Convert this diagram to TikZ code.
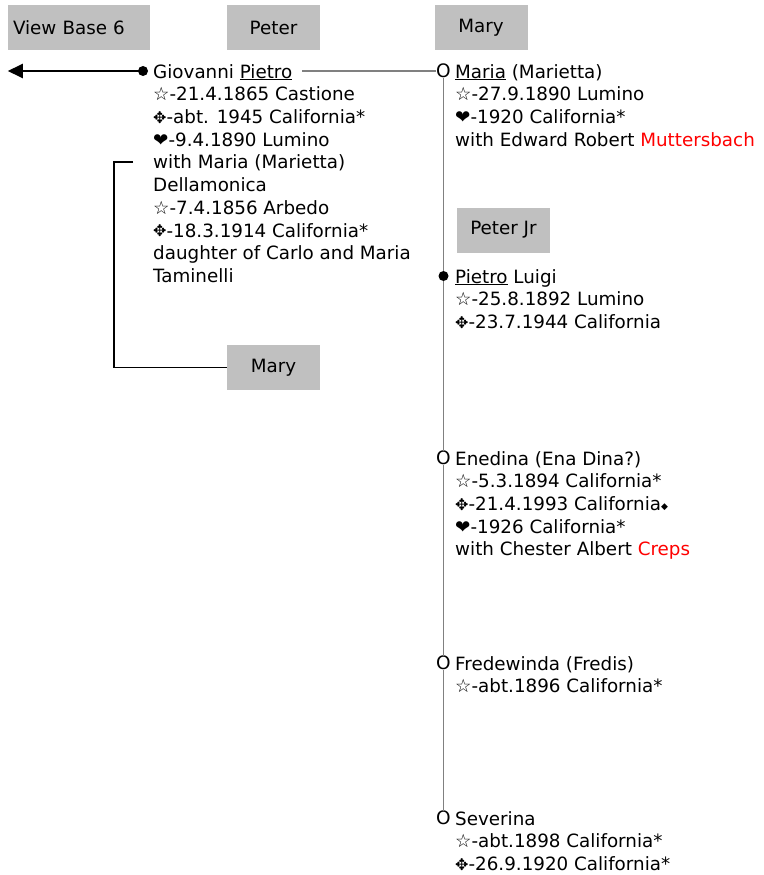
\documentclass[tikz,border=0pt]{standalone}
\usepackage{fontspec}
\setmainfont{DejaVu Sans}
\usetikzlibrary{arrows.meta}
\definecolor{tagGray}{HTML}{C0C0C0}
\definecolor{kinGray}{HTML}{808080}
\definecolor{famRed}{HTML}{FF0000}
\newcommand{\callname}[1]{\setbox0\hbox{#1}\rlap{\rule[-2.4pt]{\wd0}{1.2pt}}\box0\relax}
\newcommand{\bornsym}{☆}
\newcommand{\diedsym}{\raisebox{0.3pt}{\fontsize{16}{16}\selectfont ✥}}
\newcommand{\wedsym}{❤}
\newcommand{\notesym}{\raisebox{1pt}{\fontsize{9}{9}\selectfont ◆}}
\begin{document}
\begin{tikzpicture}[
    x=1pt, y=-1pt,
    tag/.style={fill=tagGray, minimum width=93pt, minimum height=45pt, inner sep=0pt, font=\fontsize{18.3}{22.7}\selectfont},
    person/.style={anchor=base west, inner sep=0pt, font=\fontsize{18.3}{22.7}\selectfont},
    facts/.style={anchor=north west, align=left, inner sep=0pt, font=\fontsize{18.3}{22.7}\selectfont},
    ring/.style={inner sep=0pt, font=\fontsize{18.5}{20}\selectfont},
    kdot/.style={circle, fill=black, inner sep=0pt, minimum size=10pt},
    kin/.style={draw=kinGray, line width=1.2pt},
    bracket/.style={line width=1.5pt},
    back/.style={line width=2.5pt, -{Triangle[length=15pt,width=14pt]}}
]
\useasboundingbox (0,0) rectangle (763,875);

% Gray buttons
\node[tag, text width=132pt, align=left, inner xsep=5pt] (viewBase) at (79,27.5) {View Base 6};
\node[tag] (peter) at (273.5,27.5) {Peter};
\node[tag] (maryTop) at (481,27.5) {Mary};
\node[tag] (peterJr) at (503.5,230) {Peter Jr};
\node[tag] (maryBottom) at (273.5,367.5) {Mary};

% Father and his wife (left column)
\node[person] (giovanni) at (153,78) {Giovanni \callname{Pietro}};
\node[facts] (giovanniFacts) at (153,84.8) {\strut\bornsym-21.4.1865 Castione\\
    \diedsym-abt. 1945 California*\\
    \wedsym-9.4.1890 Lumino};
\node[facts] (wife) at (153,152.9) {\strut with Maria (Marietta)\\
    Dellamonica\\
    \bornsym-7.4.1856 Arbedo\\
    \diedsym-18.3.1914 California*\\
    daughter of Carlo and Maria\\
    Taminelli};

% Children (right column)
\node[ring] (mariaO) at (443.5,71) {O};
\node[person] (maria) at (455,78) {\callname{Maria} (Marietta)};
\node[facts] (mariaFacts) at (455,84.8) {\strut\bornsym-27.9.1890 Lumino\\
    \wedsym-1920 California*\\
    with Edward Robert \textcolor{famRed}{Muttersbach}};

\node[person] (pietro) at (455,283) {\callname{Pietro} Luigi};
\node[facts] (pietroFacts) at (455,289.8) {\strut\bornsym-25.8.1892 Lumino\\
    \diedsym-23.7.1944 California};

\node[ring] (enedinaO) at (443.5,458) {O};
\node[person] (enedina) at (455,465) {Enedina (Ena Dina?)};
\node[facts] (enedinaFacts) at (455,471.8) {\strut\bornsym-5.3.1894 California*\\
    \diedsym-21.4.1993 California\notesym\\
    \wedsym-1926 California*\\
    with Chester Albert \textcolor{famRed}{Creps}};

\node[ring] (fredO) at (443.5,663) {O};
\node[person] (fred) at (455,670) {Fredewinda (Fredis)};
\node[facts] (fredFacts) at (455,676.8) {\strut\bornsym-abt.1896 California*};

\node[ring] (severinaO) at (443.5,818) {O};
\node[person] (severina) at (455,825) {Severina};
\node[facts] (severinaFacts) at (455,831.8) {\strut\bornsym-abt.1898 California*\\
    \diedsym-26.9.1920 California*};

% Connectors
\coordinate (giovStart) at (143,71);
\draw[back] (giovStart) -- (giovStart -| viewBase.west);
\draw[kin, shorten <=10pt] (giovanni.east |- mariaO.west) -- (mariaO.west);
\coordinate (pietroStart) at (443.5,276);
\draw[kin] (mariaO.south) -- (pietroStart) -- (enedinaO.north);
\draw[kin] (enedinaO.south) -- (fredO.north);
\draw[kin] (fredO.south) -- (severinaO.north);
\node[kdot] (giovDot) at (giovStart) {};
\node[kdot] (pietroDot) at (pietroStart) {};

% Bracket from the wife to her button
\coordinate (wifeTick) at ([shift={(-20,9.2)}]wife.north west);
\draw[bracket] (wifeTick) -- ++(-19,0) |- (maryBottom.west);
\end{tikzpicture}
\end{document}
